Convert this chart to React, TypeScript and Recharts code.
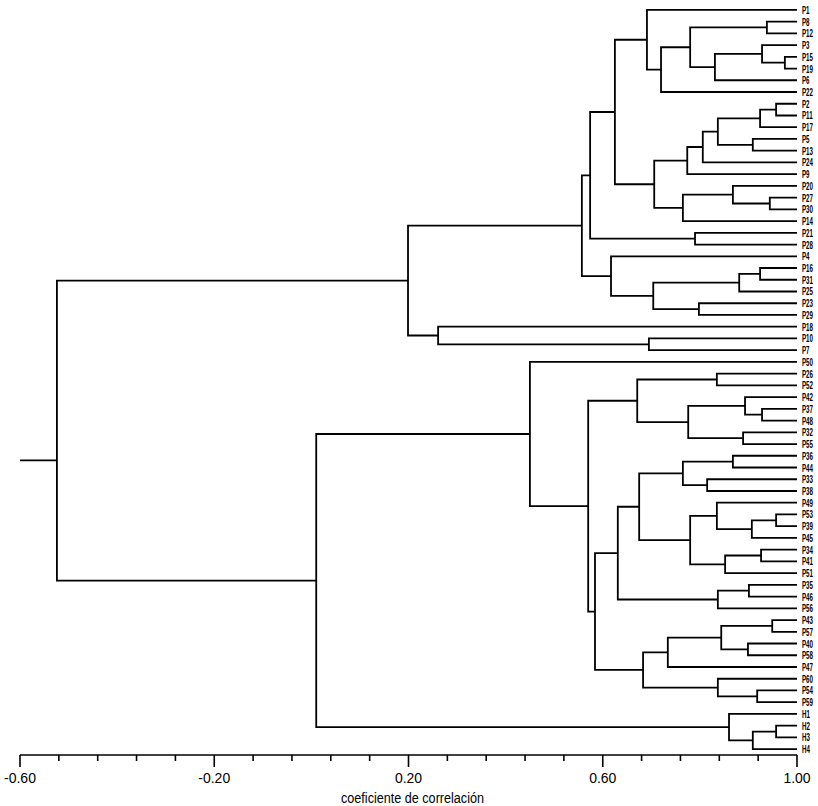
import { ComposedChart, Line, XAxis, YAxis } from 'recharts';

// leaf names, top to bottom
const leafLabels = [
  'P1', 'P8', 'P12', 'P3', 'P15', 'P19', 'P6', 'P22',
  'P2', 'P11', 'P17', 'P5', 'P13', 'P24', 'P9', 'P20',
  'P27', 'P30', 'P14', 'P21', 'P28', 'P4', 'P16', 'P31',
  'P25', 'P23', 'P29', 'P18', 'P10', 'P7',
  'P50', 'P26', 'P52', 'P42', 'P37', 'P48', 'P32', 'P55',
  'P36', 'P44', 'P33', 'P38', 'P49', 'P53', 'P39', 'P45',
  'P34', 'P41', 'P51', 'P35', 'P46', 'P56', 'P43', 'P57',
  'P40', 'P58', 'P47', 'P60', 'P54', 'P59',
  'H1', 'H2', 'H3', 'H4',
];

// leaves reach r = 1.00
const leafLevel = 1.0;

// [childA, childB, correlation]; ids < 64 are leaves, 64 + k is merge k
const merges: [number, number, number][] = [
  [1, 2, 0.938], [4, 5, 0.975], [3, 65, 0.928], [66, 6, 0.831],
  [64, 67, 0.78], [68, 7, 0.72], [0, 69, 0.691],
  [8, 9, 0.957], [71, 10, 0.924], [11, 12, 0.909], [72, 73, 0.837],
  [74, 13, 0.806], [75, 14, 0.774], [16, 17, 0.944], [15, 77, 0.868],
  [78, 18, 0.765], [76, 79, 0.706], [70, 80, 0.625], [19, 20, 0.79],
  [81, 82, 0.574],
  [22, 23, 0.924], [84, 24, 0.881], [25, 26, 0.798], [85, 86, 0.704],
  [21, 87, 0.617], [83, 88, 0.557], [28, 29, 0.695], [27, 90, 0.261],
  [89, 91, 0.199],
  [31, 32, 0.835], [34, 35, 0.928], [33, 94, 0.893], [36, 37, 0.889],
  [95, 96, 0.776], [93, 97, 0.671],
  [38, 39, 0.868], [40, 41, 0.815], [99, 100, 0.765],
  [43, 44, 0.957], [102, 45, 0.907], [42, 103, 0.835],
  [46, 47, 0.926], [105, 48, 0.852], [104, 106, 0.78], [101, 107, 0.675],
  [49, 50, 0.901], [109, 51, 0.837], [108, 110, 0.631],
  [52, 53, 0.949], [54, 55, 0.899], [112, 113, 0.844], [114, 56, 0.734],
  [58, 59, 0.918], [57, 116, 0.837], [115, 117, 0.683],
  [111, 118, 0.584], [98, 119, 0.57], [30, 120, 0.45],
  [61, 62, 0.957], [122, 63, 0.909], [60, 123, 0.86],
  [121, 124, 0.01], [92, 125, -0.524],
];

// short stub on the far left (leaf-row units)
const rootStub = [
  { x: -0.6, y: 38.4 },
  { x: -0.524, y: 38.4 },
];

const xTicks = [
  -0.6, -0.52, -0.44, -0.36, -0.28, -0.2, -0.12, -0.04, 0.04, 0.12, 0.2,
  0.28, 0.36, 0.44, 0.52, 0.6, 0.68, 0.76, 0.84, 0.92, 1.0,
];
const majorTicks = [-0.6, -0.2, 0.2, 0.6, 1.0];

type Pt = { x: number; y: number };

const nodes: Pt[] = leafLabels.map((_, i) => ({ x: leafLevel, y: i }));
const branches: Pt[][] = merges.map(([a, b, h]) => {
  const pa = nodes[a];
  const pb = nodes[b];
  nodes.push({ x: h, y: (pa.y + pb.y) / 2 });
  return [
    { x: pa.x, y: pa.y },
    { x: h, y: pa.y },
    { x: h, y: pb.y },
    { x: pb.x, y: pb.y },
  ];
});

const leafTicks = leafLabels.map((_, i) => i);

const XTick = (props: any) => {
  const { x, y, payload } = props;
  const v = payload.value as number;
  const major = majorTicks.some((m) => Math.abs(m - v) < 1e-6);
  return (
    <g>
      <line x1={x} y1={y} x2={x} y2={y + (major ? 12 : 6)} stroke="#000" strokeWidth={1.6} />
      {major && (
        <text x={x} y={y + 28} textAnchor="middle" fontSize={14} fontFamily="Liberation Sans, Arial, sans-serif" fill="#000">
          {v.toFixed(2)}
        </text>
      )}
    </g>
  );
};

// leaf names are squeezed horizontally so they fit in the strip at the right edge
const LeafTick = (props: any) => {
  const { x, y, payload } = props;
  return (
    <g transform={`translate(${x},${y}) scale(0.62,1)`}>
      <text x={0} y={0} dy={4} fontSize={10} fontWeight="bold" fontFamily="Liberation Sans, Arial, sans-serif" fill="#000">
        {leafLabels[payload.value]}
      </text>
    </g>
  );
};

const AxisTitle = (props: any) => {
  const { viewBox } = props;
  return (
    <text
      x={viewBox.x + viewBox.width / 2 + 4}
      y={viewBox.y + 48}
      textAnchor="middle"
      fontSize={14}
      fontFamily="Liberation Sans, Arial, sans-serif"
      fill="#000"
      textLength={143}
      lengthAdjust="spacingAndGlyphs"
    >
      coeficiente de correlación
    </text>
  );
};

export default function App() {
  return (
    <div style={{ position: 'absolute', left: 0, top: 0, background: '#fff' }}>
      <ComposedChart width={818} height={806} margin={{ top: 4, right: 0, bottom: 0, left: 20 }}>
        <XAxis
          type="number"
          dataKey="x"
          domain={[-0.6, 1.0]}
          ticks={xTicks}
          interval={0}
          height={51}
          tickSize={0}
          tickMargin={0}
          tickLine={false}
          axisLine={{ stroke: '#000', strokeWidth: 1.6 }}
          tick={XTick}
          label={{ content: AxisTitle }}
        />
        <YAxis
          type="number"
          orientation="right"
          domain={[-0.5, 63.5]}
          reversed
          ticks={leafTicks}
          interval={0}
          width={21}
          axisLine={false}
          tickLine={false}
          tickSize={0}
          tickMargin={5}
          tick={LeafTick}
        />
        {branches.map((pts, i) => (
          <Line
            key={`b-${i}`}
            data={pts}
            dataKey="y"
            type="linear"
            stroke="#000"
            strokeWidth={1.8}
            dot={false}
            activeDot={false}
            isAnimationActive={false}
          />
        ))}
        <Line
          data={rootStub}
          dataKey="y"
          type="linear"
          stroke="#000"
          strokeWidth={1.8}
          dot={false}
          activeDot={false}
          isAnimationActive={false}
        />
      </ComposedChart>
    </div>
  );
}
